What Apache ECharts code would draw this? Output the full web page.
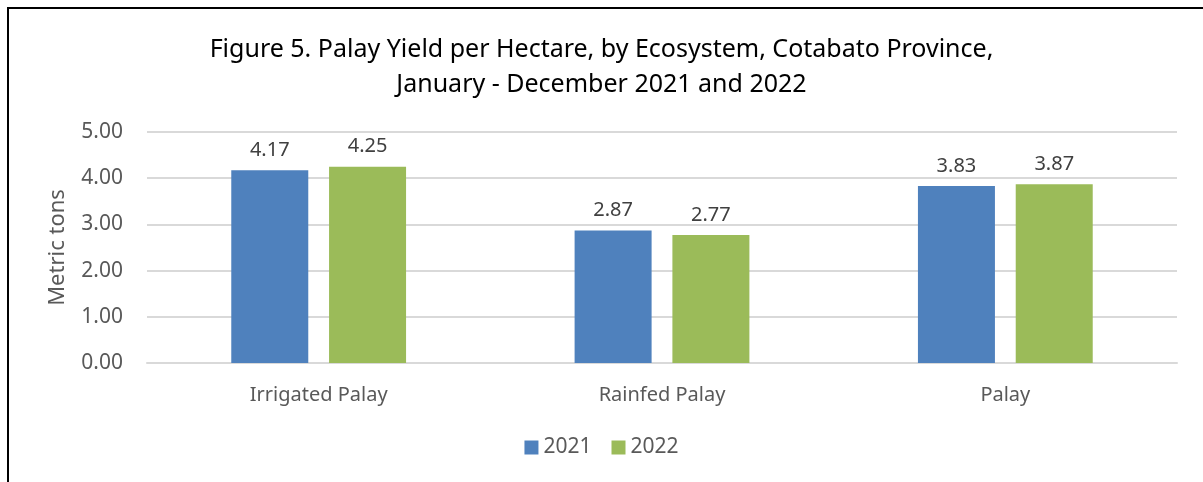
<!DOCTYPE html>
<html>
<head>
<meta charset="utf-8">
<script src="https://cdn.jsdelivr.net/npm/echarts@6/dist/echarts.min.js"></script>
<style>
html,body{margin:0;padding:0;background:#fff;}
#chart{width:1203px;height:482px;position:absolute;left:0;top:0;}
#frame{position:absolute;left:7px;top:7px;width:1200px;height:480px;border-top:2.5px solid #000;border-left:2.5px solid #000;pointer-events:none;box-sizing:border-box;}
</style>
</head>
<body>
<div id="chart"></div>
<div id="frame"></div>
<script>
var categories = ['Irrigated Palay', 'Rainfed Palay', 'Palay'];
var values2021 = [4.17, 2.87, 3.83];
var values2022 = [4.25, 2.77, 3.87];
var seriesNames = ['2021', '2022'];
var titleLines = ['Figure 5. Palay Yield per Hectare, by Ecosystem, Cotabato Province,', 'January - December 2021 and 2022'];

var FONT = 'Noto Sans';
var chart = echarts.init(document.getElementById('chart'));
var labelCfg = {
  show: true, position: 'top', distance: 10,
  formatter: function (p) { return p.value.toFixed(2); },
  color: '#404040', fontSize: 20, fontFamily: FONT
};
chart.setOption({
  animation: false,
  title: {
    text: titleLines.join('\n'),
    left: 'center', top: 27,
    textStyle: { fontFamily: FONT, fontSize: 25, fontWeight: 'normal', color: '#000', lineHeight: 35 }
  },
  legend: {
    data: seriesNames,
    bottom: 19, left: 'center',
    itemWidth: 14, itemHeight: 14, itemGap: 20,
    icon: 'rect',
    textStyle: { fontFamily: FONT, fontSize: 21, color: '#595959' }
  },
  grid: { left: 147, right: 26, top: 132, bottom: 119 },
  xAxis: {
    type: 'category',
    data: categories,
    axisLine: { show: true, lineStyle: { color: '#d9d9d9', width: 2 } },
    axisTick: { show: false },
    axisLabel: { fontFamily: FONT, fontSize: 20, color: '#595959', margin: 22 }
  },
  yAxis: {
    type: 'value',
    min: 0, max: 5, interval: 1,
    name: 'Metric tons',
    nameLocation: 'middle',
    nameGap: 78,
    nameTextStyle: { fontFamily: FONT, fontSize: 22, color: '#595959' },
    axisLine: { show: false },
    axisTick: { show: false },
    splitLine: { lineStyle: { color: '#d9d9d9', width: 2 } },
    axisLabel: { fontFamily: FONT, fontSize: 21, color: '#595959', margin: 24,
      formatter: function (v) { return v.toFixed(2); } }
  },
  series: [
    { name: seriesNames[0], type: 'bar', data: values2021, barWidth: 77, barGap: '27%',
      itemStyle: { color: '#4F81BD' }, label: labelCfg },
    { name: seriesNames[1], type: 'bar', data: values2022, barWidth: 77,
      itemStyle: { color: '#9BBB59' }, label: labelCfg }
  ]
});
</script>
</body>
</html>
